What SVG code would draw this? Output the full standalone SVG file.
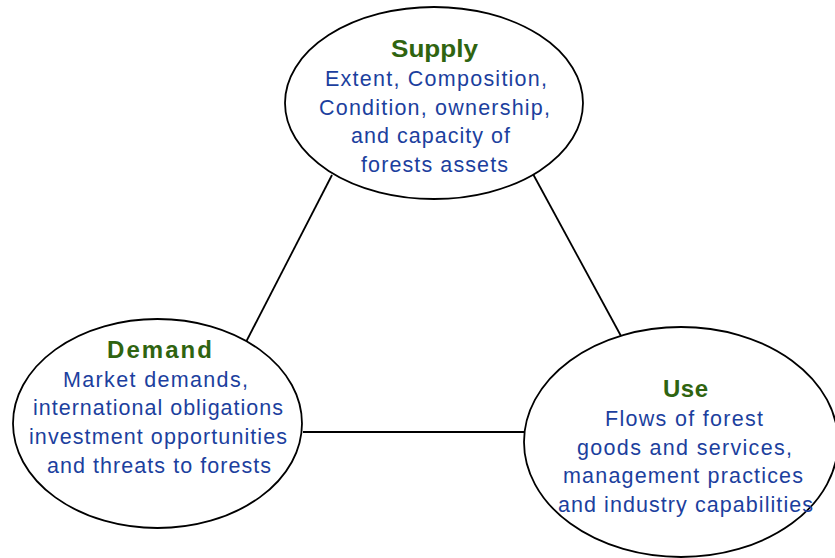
<svg xmlns="http://www.w3.org/2000/svg" width="835" height="558" viewBox="0 0 835 558">
<style>
.node{fill:#ffffff;stroke:#000000;stroke-width:1.8}
.conn{stroke:#000000;stroke-width:1.8;fill:none}
.title{font-family:"Liberation Sans",Arial,sans-serif;font-weight:bold;font-size:24px;fill:#2f6410;text-anchor:middle}
.body{font-family:"Liberation Sans",Arial,sans-serif;font-size:21.5px;fill:#1c3f9e;text-anchor:middle}
</style>
<rect width="835" height="558" fill="#ffffff"/>
<g id="connectors">
<line class="conn" x1="332" y1="175" x2="246" y2="342"/>
<line class="conn" x1="533" y1="174" x2="621" y2="336"/>
<line class="conn" x1="303" y1="432" x2="525" y2="432"/>
</g>
<g id="supply">
<ellipse class="node" cx="434" cy="103" rx="149" ry="96"/>
<text class="title" x="434.5" y="57" textLength="87" lengthAdjust="spacingAndGlyphs">Supply</text>
<text class="body" x="436" y="86" textLength="222" lengthAdjust="spacing">Extent, Composition,</text>
<text class="body" x="434.5" y="115" textLength="231" lengthAdjust="spacing">Condition, ownership,</text>
<text class="body" x="430.5" y="143" textLength="159" lengthAdjust="spacing">and capacity of</text>
<text class="body" x="434.5" y="172" textLength="147" lengthAdjust="spacing">forests assets</text>
</g>
<g id="demand">
<ellipse class="node" cx="157.5" cy="423.5" rx="144.5" ry="104.5"/>
<text class="title" x="159.5" y="358" textLength="105" lengthAdjust="spacing">Demand</text>
<text class="body" x="155.5" y="387" textLength="185" lengthAdjust="spacing">Market demands,</text>
<text class="body" x="158" y="415" textLength="250" lengthAdjust="spacing">international obligations</text>
<text class="body" x="158" y="444" textLength="258" lengthAdjust="spacing">investment opportunities</text>
<text class="body" x="159" y="473" textLength="224" lengthAdjust="spacing">and threats to forests</text>
</g>
<g id="use">
<ellipse class="node" cx="681" cy="442" rx="157" ry="115"/>
<text class="title" x="685.5" y="397" textLength="45" lengthAdjust="spacing">Use</text>
<text class="body" x="684" y="426" textLength="158" lengthAdjust="spacing">Flows of forest</text>
<text class="body" x="684.5" y="455" textLength="215" lengthAdjust="spacing">goods and services,</text>
<text class="body" x="683" y="483" textLength="240" lengthAdjust="spacing">management practices</text>
<text class="body" x="685.5" y="512" textLength="255" lengthAdjust="spacing">and industry capabilities</text>
</g>
</svg>
